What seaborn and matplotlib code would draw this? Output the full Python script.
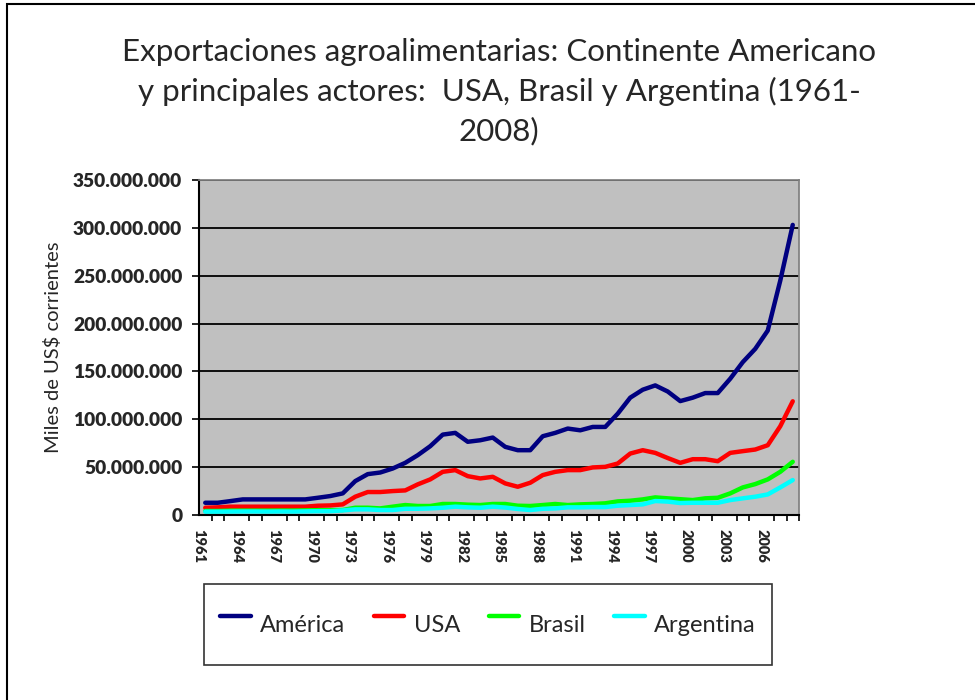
import matplotlib
matplotlib.use("Agg")
import matplotlib.pyplot as plt
import matplotlib.patches as patches
from matplotlib.ticker import FuncFormatter, MultipleLocator
import seaborn as sns
import pandas as pd
import numpy as np

sns.set_theme(style="white")
plt.rcParams['font.family'] = ['Lato', 'DejaVu Sans']
plt.rcParams['xtick.direction'] = 'out'
plt.rcParams['ytick.direction'] = 'out'

# datos (millones de miles de US$)
years = list(range(1961, 2009))

america = [12.8, 12.8, 14.5, 16.3, 16.3, 16.3, 16.3, 16.3, 16.3,
           18.0, 19.8, 22.6, 35.4, 42.7, 44.4, 48.6, 54.5, 62.5, 71.9,
           84.0, 85.8, 76.5, 78.1, 80.9, 71.2, 67.7, 67.7, 82.3, 85.8,
           90.3, 88.5, 92.0, 92.0, 105.9, 122.6, 130.9, 135.4, 129.0, 119.0,
           122.6, 127.4, 127.4, 142.4, 159.7, 173.6, 192.7, 244.8, 303.1]

usa = [7.6, 8.0, 8.7, 8.7, 8.7, 8.7, 8.7, 8.7, 8.7,
       9.7, 10.0, 11.1, 19.1, 24.0, 24.0, 25.0, 25.7, 32.0, 37.2,
       45.1, 46.9, 40.6, 38.2, 39.9, 33.0, 29.5, 33.7, 41.7, 45.1,
       46.9, 46.9, 49.7, 50.3, 53.8, 64.2, 67.7, 64.9, 59.5, 54.5,
       58.3, 58.3, 56.2, 64.9, 66.7, 68.4, 72.9, 92.7, 118.8]

brasil = [4.2, 4.2, 4.5, 4.5, 4.5, 4.5, 4.6, 4.6, 4.8,
          5.0, 5.0, 5.2, 7.6, 7.6, 6.9, 8.7, 10.4, 9.4, 9.4,
          11.5, 11.5, 10.8, 10.4, 11.5, 11.5, 9.7, 9.4, 10.4, 11.5,
          10.4, 11.1, 11.5, 12.2, 14.2, 14.9, 16.3, 18.4, 17.4, 16.5,
          15.6, 17.4, 18.0, 22.6, 28.8, 32.3, 37.2, 45.1, 55.6]

argentina = [3.5, 3.5, 3.6, 3.7, 3.7, 3.6, 3.7, 3.6, 3.8,
             4.0, 4.0, 4.8, 5.9, 5.9, 5.2, 5.2, 6.5, 6.5, 6.9,
             7.6, 8.7, 8.0, 7.6, 8.7, 7.8, 6.3, 5.2, 6.5, 6.9,
             8.0, 8.0, 8.3, 8.3, 9.7, 10.4, 11.1, 14.6, 14.0, 12.5,
             12.8, 12.8, 12.8, 15.6, 17.4, 19.1, 21.5, 28.8, 36.5]

series = ['América', 'USA', 'Brasil', 'Argentina']
colors = ['#000080', '#FF0000', '#00FF00', '#00FFFF']

rows = []
for name, vals in zip(series, [america, usa, brasil, argentina]):
    for i, (yr, v) in enumerate(zip(years, vals)):
        rows.append([name, i, yr, v])
df = pd.DataFrame(rows, columns=['serie', 'pos', 'year', 'valor'])

fig = plt.figure(figsize=(9.75, 7), dpi=100)
ax = fig.add_axes([199 / 975, 1 - 515 / 700, 600 / 975, 335 / 700])
ax.set_facecolor('#C0C0C0')

sns.lineplot(data=df, x='pos', y='valor', hue='serie', hue_order=series,
             palette=colors, linewidth=3.2, legend=False, ax=ax)

ax.set_ylim(0, 350)
ax.set_xlim(-0.5, len(years) - 0.5)
ax.yaxis.set_major_locator(MultipleLocator(50))
ax.yaxis.grid(True, color='black', linewidth=1.3)
ax.xaxis.grid(False)
ax.set_axisbelow(True)

def fmt_miles(v, pos):
    n = int(round(v * 1e6))
    return '0' if n == 0 else '{:,}'.format(n).replace(',', '.')

ax.yaxis.set_major_formatter(FuncFormatter(fmt_miles))
ax.tick_params(axis='y', which='major', left=True, length=5, width=1.2,
               color='black', pad=7, labelsize=13.8)
for lbl in ax.get_yticklabels():
    lbl.set_fontweight('heavy')

# etiquetas de año sobre las marcas (borde izquierdo de cada categoria)
lab_pos = list(range(0, len(years), 3))
ax.set_xticks([p - 0.5 for p in lab_pos])
ax.set_xticklabels([str(years[p]) for p in lab_pos], rotation=-90,
                   fontweight='heavy', fontsize=10.5, va='top', ha='center')
ax.set_xticks(np.arange(-0.5, len(years), 1), minor=True)
ax.tick_params(axis='x', which='major', bottom=True, length=0, pad=10)
ax.tick_params(axis='x', which='minor', bottom=True, length=4, width=1.2,
               color='black')

for s in ['top', 'right']:
    ax.spines[s].set_color('#808080')
for s in ['left', 'bottom']:
    ax.spines[s].set_color('black')
    ax.spines[s].set_linewidth(1.5)

ax.set_xlabel('')
ax.set_ylabel('Miles de US$ corrientes', fontsize=14.5)
ax.yaxis.set_label_coords(-0.228, 0.5)

fig.text(0.512, 0.946,
         'Exportaciones agroalimentarias: Continente Americano\n'
         'y principales actores:  USA, Brasil y Argentina (1961-\n'
         '2008)',
         ha='center', va='top', fontsize=22.5, linespacing=1.45)

handles = ax.get_lines()[:4]
leg = fig.legend(handles, series, loc='center', ncol=4,
                 bbox_to_anchor=(488 / 975, 1 - 624.5 / 700),
                 fontsize=17, frameon=True, fancybox=False, edgecolor='black',
                 handlelength=1.3, handleheight=2.7, handletextpad=0.4,
                 columnspacing=1.2, borderpad=0.7, borderaxespad=0)
leg.get_frame().set_linewidth(1.2)

fig.patches.append(patches.Rectangle((7 / 975, -0.1), 1.2, 1 - 4 / 700 + 0.1,
                                     transform=fig.transFigure, fill=False,
                                     edgecolor='black', linewidth=1.5))

fig.savefig('out.png', dpi=100)
